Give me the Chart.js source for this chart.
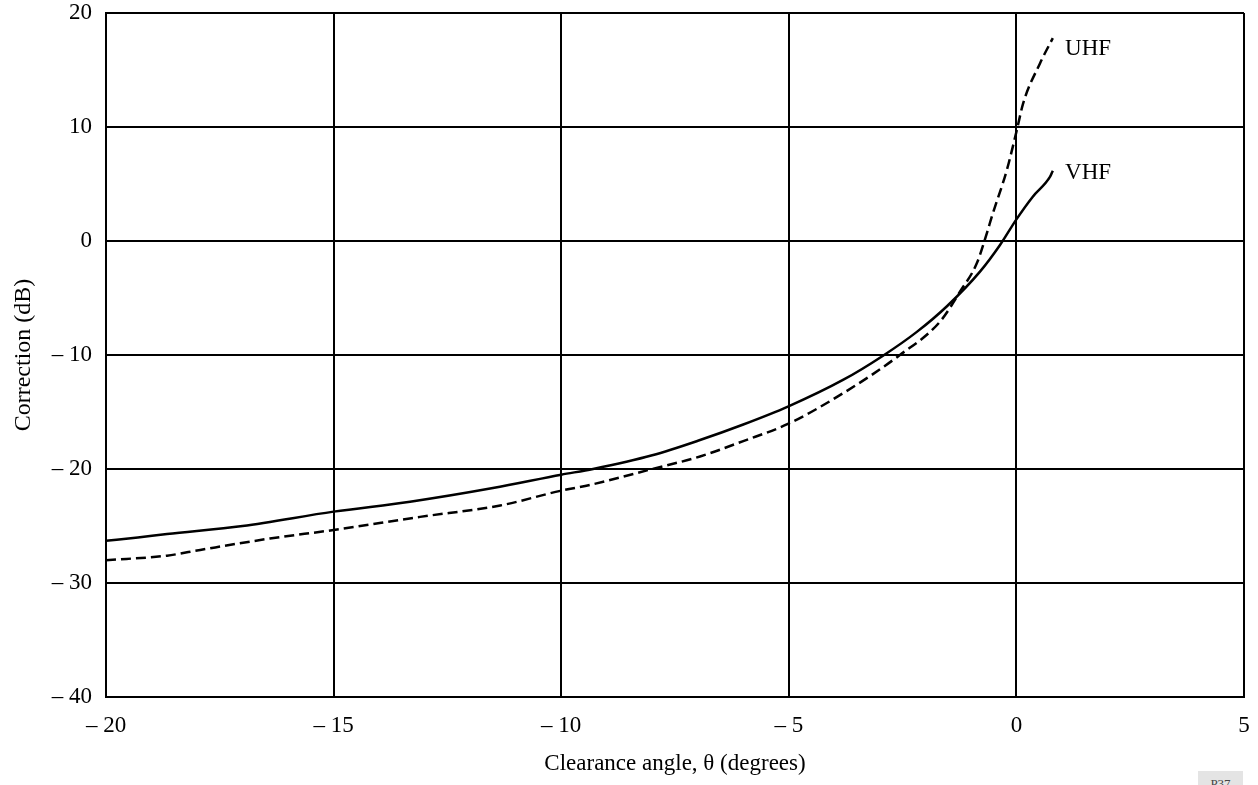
<!DOCTYPE html>
<html>
<head>
<meta charset="utf-8">
<script src="https://cdn.jsdelivr.net/npm/chart.js@4/dist/chart.umd.min.js"></script>
<style>
  html, body { margin: 0; padding: 0; background: #fff; }
  #wrap { position: relative; width: 1258px; height: 785px; overflow: hidden; }
  canvas { display: block; }
  #tag { position: absolute; left: 1198px; top: 771px; width: 45px; height: 20px; background: #e4e4e4;
         font-family: "Liberation Serif", serif; font-size: 13px; color: #444; text-align: center; line-height: 26px; overflow: hidden; }
</style>
</head>
<body>
<div id="wrap">
  <canvas id="c" width="1258" height="785"></canvas>
  <div id="tag">P37</div>
</div>
<script>
// ---- data ----
const xTicks = [-20, -15, -10, -5, 0, 5];
const xTickLabels = ['– 20', '– 15', '– 10', '– 5', '0', '5'];
const yTicks = [-40, -30, -20, -10, 0, 10, 20];
const yTickLabels = ['– 40', '– 30', '– 20', '– 10', '0', '10', '20'];

const vhfX = [-20, -19.3, -18.66, -17, -15, -13.32, -11.5, -10, -9.3, -8, -6.95, -6, -5.02, -3.81, -2.93, -2.18, -1.52, -0.8, -0.36, 0, 0.36, 0.74, 0.8];
const vhfY = [-26.3, -26.0, -25.7, -25.0, -23.74, -22.87, -21.67, -20.5, -20.0, -18.8, -17.46, -16.1, -14.53, -12.19, -10.06, -7.95, -5.7, -2.69, -0.35, 1.9, 3.89, 5.64, 6.17];

const uhfX = [-20, -18.66, -17.93, -16.4, -15, -13.1, -11.34, -10, -9.37, -8, -6.95, -6, -5.02, -3.81, -2.56, -1.68, -1.24, -0.87, -0.65, -0.54, -0.21, 0.01, 0.15, 0.52, 0.8];
const uhfY = [-28.0, -27.6, -27.1, -26.1, -25.35, -24.2, -23.2, -21.9, -21.4, -20.0, -18.9, -17.55, -16.05, -13.36, -10.0, -7.08, -4.45, -1.96, 0.67, 2.14, 6.23, 9.74, 12.1, 15.6, 17.8];

const seriesNames = ['VHF', 'UHF'];
const labelPos = [{x: 1.07, y: 5.96}, {x: 1.07, y: 16.84}];

const FONT = '"Liberation Serif", "Times New Roman", serif';

function pts(xs, ys) { return xs.map((x, i) => ({x: x, y: ys[i]})); }

const curveLabels = {
  id: 'curveLabels',
  afterDatasetsDraw(chart) {
    const ctx = chart.ctx;
    const xs = chart.scales.x, ys = chart.scales.y;
    ctx.save();
    ctx.fillStyle = '#000';
    ctx.font = '23px ' + FONT;
    ctx.textAlign = 'left';
    ctx.textBaseline = 'middle';
    seriesNames.forEach((n, i) => {
      ctx.fillText(n, xs.getPixelForValue(labelPos[i].x), ys.getPixelForValue(labelPos[i].y));
    });
    ctx.restore();
  }
};

new Chart(document.getElementById('c'), {
  type: 'line',
  data: {
    datasets: [
      { label: seriesNames[0], data: pts(vhfX, vhfY), borderColor: '#000', borderWidth: 2.5,
        pointRadius: 0, cubicInterpolationMode: 'monotone', fill: false },
      { label: seriesNames[1], data: pts(uhfX, uhfY), borderColor: '#000', borderWidth: 2.5,
        borderDash: [10, 5], pointRadius: 0, cubicInterpolationMode: 'monotone', fill: false }
    ]
  },
  options: {
    responsive: false,
    animation: false,
    devicePixelRatio: 1,
    layout: { padding: { left: 0, right: 14, top: 13, bottom: 0 } },
    plugins: { legend: { display: false }, tooltip: { enabled: false } },
    scales: {
      x: {
        type: 'linear', min: -20, max: 5,
        afterBuildTicks: s => { s.ticks = xTicks.map(v => ({value: v})); },
        afterFit: s => { s.height = 88; s.paddingLeft = 0; s.paddingRight = 0; },
        ticks: { color: '#000', font: { family: FONT, size: 23 }, padding: 15,
                 callback: (v) => xTickLabels[xTicks.indexOf(v)], maxRotation: 0 },
        grid: { color: '#000', lineWidth: 2, drawTicks: false },
        border: { color: '#000', width: 2 },
        title: { display: true, text: 'Clearance angle, θ (degrees)', color: '#000',
                 font: { family: FONT, size: 23 }, padding: { top: 6, bottom: 7 } }
      },
      y: {
        type: 'linear', min: -40, max: 20,
        afterBuildTicks: s => { s.ticks = yTicks.map(v => ({value: v})); },
        afterFit: s => { s.width = 106; s.paddingTop = 0; s.paddingBottom = 0; },
        ticks: { color: '#000', font: { family: FONT, size: 23 }, padding: 14,
                 callback: (v) => yTickLabels[yTicks.indexOf(v)] },
        grid: { color: '#000', lineWidth: 2, drawTicks: false },
        border: { color: '#000', width: 2 },
        title: { display: true, text: 'Correction (dB)', color: '#000',
                 font: { family: FONT, size: 24 }, padding: { top: 9, bottom: 0 } }
      }
    }
  },
  plugins: [curveLabels]
});
</script>
</body>
</html>
